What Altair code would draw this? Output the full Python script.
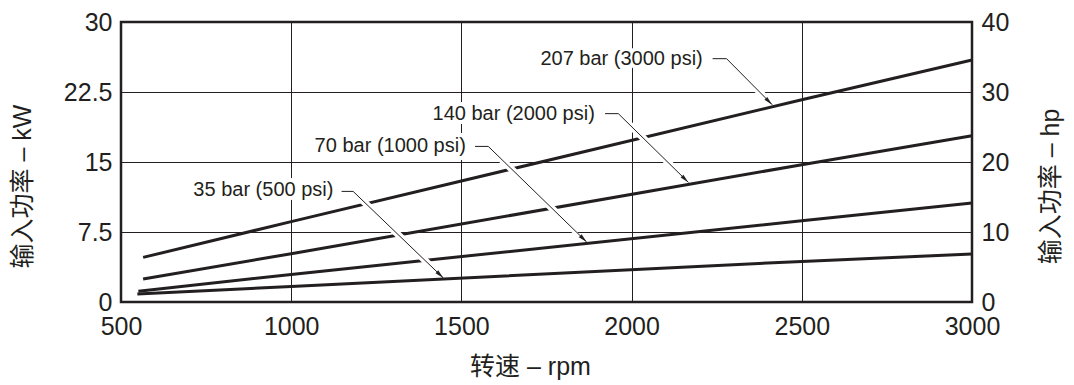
import math

import altair as alt
import pandas as pd

# Input power curves, one per pressure: speed (rpm) and power (kW)
series_names = ["207 bar", "140 bar", "70 bar", "35 bar"]
rpm_207 = [565, 1000, 2500, 3000]
kw_207 = [4.78, 8.61, 21.67, 25.93]
rpm_140 = [565, 1000, 2500, 3000]
kw_140 = [2.46, 5.18, 14.71, 17.82]
rpm_70 = [551, 1000, 2500, 3000]
kw_70 = [1.14, 2.95, 8.71, 10.6]
rpm_35 = [548, 1000, 2500, 3000]
kw_35 = [0.86, 1.67, 4.35, 5.14]

# Axis ticks
x_ticks = [500, 1000, 1500, 2000, 2500, 3000]
kw_ticks = [0, 7.5, 15, 22.5, 30]
hp_ticks = [0, 10, 20, 30, 40]

# Callout labels: text (right edge), leader knee and arrow tip
label_text = ["207 bar (3000 psi)", "140 bar (2000 psi)", "70 bar (1000 psi)", "35 bar (500 psi)"]
label_rpm = [2209, 1892, 1513, 1124]
label_kw = [26.07, 20.12, 16.67, 11.96]
leader_start_rpm = [2238, 1922, 1540, 1148]
knee_rpm = [2279, 1961, 1579, 1182]
leader_kw = [26.07, 20.18, 16.67, 11.85]
tip_rpm = [2413, 2167, 1868, 1447]
tip_kw = [21.14, 12.81, 6.43, 2.57]

W, H = 851, 280
X_DOM = [500, 3000]
KW_DOM = [0, 30]
HP_DOM = [0, 40]
px_x = W / (X_DOM[1] - X_DOM[0])
px_y = H / (KW_DOM[1] - KW_DOM[0])

INK = "#231f20"
FONT = "Liberation Sans, Arial, Noto Sans CJK SC, sans-serif"

x_scale = alt.Scale(domain=X_DOM, nice=False, zero=False)
y_scale = alt.Scale(domain=KW_DOM, nice=False, zero=False)

# ---- tables ----
curve_rows = []
for name, rs, ks in zip(series_names,
                        [rpm_207, rpm_140, rpm_70, rpm_35],
                        [kw_207, kw_140, kw_70, kw_35]):
    for r, k in zip(rs, ks):
        curve_rows.append({"series": name, "rpm": r, "kw": k})
curves = pd.DataFrame(curve_rows)

leader_rows, halo_rows, head_rows, text_rows = [], [], [], []
for i, txt in enumerate(label_text):
    leader_rows += [
        {"id": txt, "seq": 0, "rpm": leader_start_rpm[i], "kw": leader_kw[i]},
        {"id": txt, "seq": 1, "rpm": knee_rpm[i], "kw": leader_kw[i]},
        {"id": txt, "seq": 2, "rpm": tip_rpm[i], "kw": tip_kw[i]},
    ]
    # screen-space direction of the diagonal part
    dx = (tip_rpm[i] - knee_rpm[i]) * px_x
    dy = -(tip_kw[i] - leader_kw[i]) * px_y
    length = math.hypot(dx, dy)
    t = max(0.0, 1 - 13.0 / length)
    halo_rows += [
        {"id": txt, "seq": 0, "rpm": leader_start_rpm[i] - 2 / px_x, "kw": leader_kw[i]},
        {"id": txt, "seq": 1, "rpm": knee_rpm[i], "kw": leader_kw[i]},
        {"id": txt, "seq": 2,
         "rpm": knee_rpm[i] + t * (tip_rpm[i] - knee_rpm[i]),
         "kw": leader_kw[i] + t * (tip_kw[i] - leader_kw[i])},
    ]
    head_rows.append({"rpm": tip_rpm[i], "kw": tip_kw[i],
                      "ang": math.degrees(math.atan2(dx, -dy)) % 360})
    text_rows.append({"label": txt, "rpm": label_rpm[i], "kw": label_kw[i]})

leaders = pd.DataFrame(leader_rows)
halos = pd.DataFrame(halo_rows)
heads = pd.DataFrame(head_rows)
texts = pd.DataFrame(text_rows)
hp_frame = pd.DataFrame({"hp": HP_DOM})

# ---- axes ----
x_axis = alt.Axis(values=x_ticks, format="d", grid=True, gridColor=INK, gridWidth=1,
                  ticks=False, domain=False, labelFlush=False, labelFont=FONT,
                  labelFontSize=25, labelColor=INK, labelPadding=12, title="转速 – rpm",
                  titleFont=FONT, titleFontSize=25, titleFontWeight="normal",
                  titleColor=INK, titleX=409, titleY=64, titleBaseline="middle",
                  titleAlign="center")
kw_axis = alt.Axis(values=kw_ticks, format=".1~f", grid=True, gridColor=INK, gridWidth=1,
                   ticks=False, domain=False, labelFlush=False, labelFont=FONT,
                   labelFontSize=25, labelColor=INK, labelPadding=9, title="输入功率 – kW",
                   titleFont=FONT, titleFontSize=25, titleFontWeight="normal",
                   titleColor=INK, titleAngle=270, titleX=-99, titleY=164,
                   titleBaseline="middle", titleAlign="center")
hp_axis = alt.Axis(orient="right", values=hp_ticks, grid=False, ticks=False, domain=False,
                   labelFlush=False, labelFont=FONT, labelFontSize=25, labelColor=INK,
                   labelPadding=9, title="输入功率 – hp", titleFont=FONT, titleFontSize=25,
                   titleFontWeight="normal", titleColor=INK, titleAngle=270,
                   titleX=78, titleY=164, titleBaseline="middle", titleAlign="center")


def xy(df):
    return alt.Chart(df).encode(
        x=alt.X("rpm:Q", scale=x_scale, axis=x_axis),
        y=alt.Y("kw:Q", scale=y_scale, axis=kw_axis),
    )


# ---- layers ----
lines = xy(curves).mark_line(color=INK, strokeWidth=3, strokeCap="butt").encode(
    detail="series:N")
halo_layer = xy(halos).mark_line(color="white", strokeWidth=7, strokeCap="butt").encode(
    detail="id:N", order="seq:Q")
leader_layer = xy(leaders).mark_line(color=INK, strokeWidth=1).encode(
    detail="id:N", order="seq:Q")
head_layer = xy(heads).mark_point(
    shape="M0,0 L0.22,1 L-0.22,1 Z", size=324, filled=True, color=INK,
    opacity=1, strokeWidth=0,
).encode(angle=alt.Angle("ang:Q", scale=None))
text_halo = xy(texts).mark_text(align="right", baseline="middle", font=FONT, fontSize=20,
                                color="white", stroke="white", strokeWidth=8,
                                strokeJoin="round").encode(text="label:N")
text_layer = xy(texts).mark_text(align="right", baseline="middle", font=FONT, fontSize=20,
                                 color=INK).encode(text="label:N")

kw_layers = alt.layer(lines, halo_layer, leader_layer, head_layer, text_halo, text_layer)

hp_layer = alt.Chart(hp_frame).mark_point(opacity=0).encode(
    y=alt.Y("hp:Q", scale=alt.Scale(domain=HP_DOM, nice=False, zero=False), axis=hp_axis)
)

chart = alt.layer(kw_layers, hp_layer).resolve_scale(y="independent").properties(
    width=W, height=H,
    autosize=alt.AutoSizeParams(type="none"),
    padding={"left": 121, "top": 22, "right": 102, "bottom": 83},
    background="white",
).configure_view(stroke=INK, strokeWidth=2.5)

chart.save("out.html", embed_options={"renderer": "svg", "actions": False})
